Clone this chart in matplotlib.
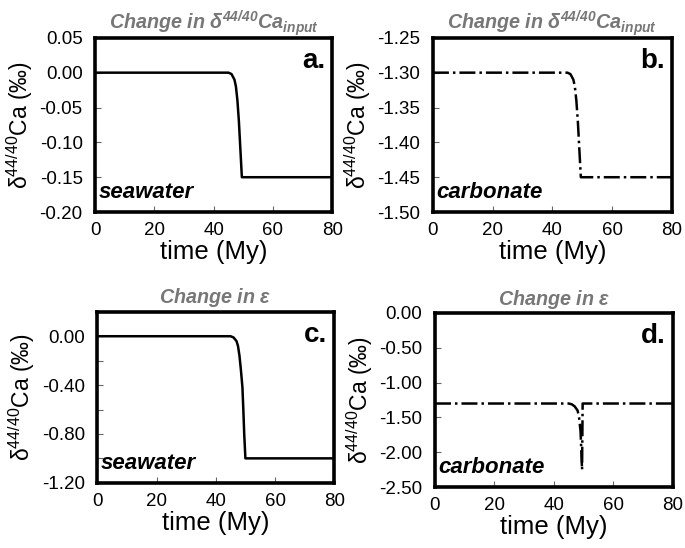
import numpy as np
import matplotlib
matplotlib.use("Agg")
import matplotlib.pyplot as plt

plt.rcParams['font.family'] = ['Liberation Sans', 'DejaVu Sans']
plt.rcParams['mathtext.fontset'] = 'custom'
plt.rcParams['mathtext.rm'] = 'Liberation Sans'
plt.rcParams['mathtext.it'] = 'Liberation Sans:italic'
plt.rcParams['mathtext.bf'] = 'Liberation Sans:bold'
plt.rcParams['mathtext.bfit'] = 'Liberation Sans:italic:bold'

# data
t_a = [0, 45, 46, 47, 47.5, 48, 48.5, 49, 49.5, 80]
sw_a = [0, 0, -0.002, -0.01, -0.02, -0.04, -0.07, -0.11, -0.15, -0.15]

t_b = [0, 45, 46, 47, 47.5, 48, 48.5, 49, 49.5, 80]
carb_b = [-1.30, -1.30, -1.302, -1.31, -1.32, -1.34, -1.37, -1.41, -1.45, -1.45]

t_c = [0, 45, 46, 47, 47.5, 48, 48.5, 49, 49.3, 49.6, 50, 80]
sw_c = [0, 0, -0.01, -0.04, -0.08, -0.16, -0.28, -0.42, -0.6, -0.8, -1.0, -1.0]

t_d = [0, 45, 46, 47, 48, 48.5, 49, 49.5, 49.7, 80]
carb_d = [-1.3, -1.3, -1.31, -1.34, -1.4, -1.5, -1.7, -2.25, -1.3, -1.3]

title_in = r'Change in δ$^{\mathbfit{44/40}}$Ca$_{\mathbfit{input}}$'
title_eps = r'Change in $\mathbfit{\epsilon}$'
ylab = r'δ$^{44/40}$Ca (‰)'


def fmt(v):
    s = '%.2f' % v
    return '0.00' if s == '-0.00' else s


fig = plt.figure(figsize=(6.85, 5.48), dpi=100)

panels = [
    dict(rect=[0.139, 0.613, 0.346, 0.318], t=t_a, y=sw_a, ls='-', ylim=(-0.20, 0.05),
         yt=np.arange(-0.20, 0.051, 0.05), skip=1, title=title_in, letter='a.', name='seawater'),
    dict(rect=[0.632, 0.613, 0.349, 0.318], t=t_b, y=carb_b, ls='-.', ylim=(-1.50, -1.25),
         yt=np.arange(-1.50, -1.249, 0.05), skip=1, title=title_in, letter='b.', name='carbonate'),
    dict(rect=[0.142, 0.119, 0.346, 0.312], t=t_c, y=sw_c, ls='-', ylim=(-1.20, 0.20),
         yt=np.arange(-1.20, 0.01, 0.2), skip=2, title=title_eps, letter='c.', name='seawater'),
    dict(rect=[0.635, 0.111, 0.347, 0.318], t=t_d, y=carb_d, ls='-.', ylim=(-2.50, 0.0),
         yt=np.arange(-2.50, 0.01, 0.5), skip=1, title=title_eps, letter='d.', name='carbonate'),
]

for p in panels:
    ax = fig.add_axes(p['rect'])
    ax.plot(p['t'], p['y'], color='black', lw=1.8, ls=p['ls'])
    ax.set_xlim(0, 80)
    ax.set_ylim(*p['ylim'])
    ax.set_xticks([0, 20, 40, 60, 80])
    ax.set_yticks(p['yt'])
    ax.set_yticklabels([fmt(v) if i % p['skip'] == 0 else '' for i, v in enumerate(p['yt'])])
    ax.tick_params(direction='in', length=4, width=0.8, labelsize=13.5, colors='#666666',
                   labelcolor='black')
    ax.tick_params(axis='y', pad=9)
    ax.tick_params(axis='x', pad=7)
    for s in ax.spines.values():
        s.set_linewidth(2.6)
    ax.set_xlabel('time (My)', fontsize=18.5, labelpad=1)
    ax.set_ylabel(ylab, fontsize=16.5, labelpad=3)
    ax.set_title(p['title'], fontsize=14.2, fontweight='bold', fontstyle='italic', color='#777777', pad=6)
    ax.text(0.97, 0.94, p['letter'], transform=ax.transAxes, ha='right', va='top',
            fontsize=20, fontweight='bold')
    ax.text(0.015, 0.05, p['name'], transform=ax.transAxes, ha='left', va='bottom',
            fontsize=16, fontweight='bold', fontstyle='italic')

fig.savefig('out.png', dpi=100)
